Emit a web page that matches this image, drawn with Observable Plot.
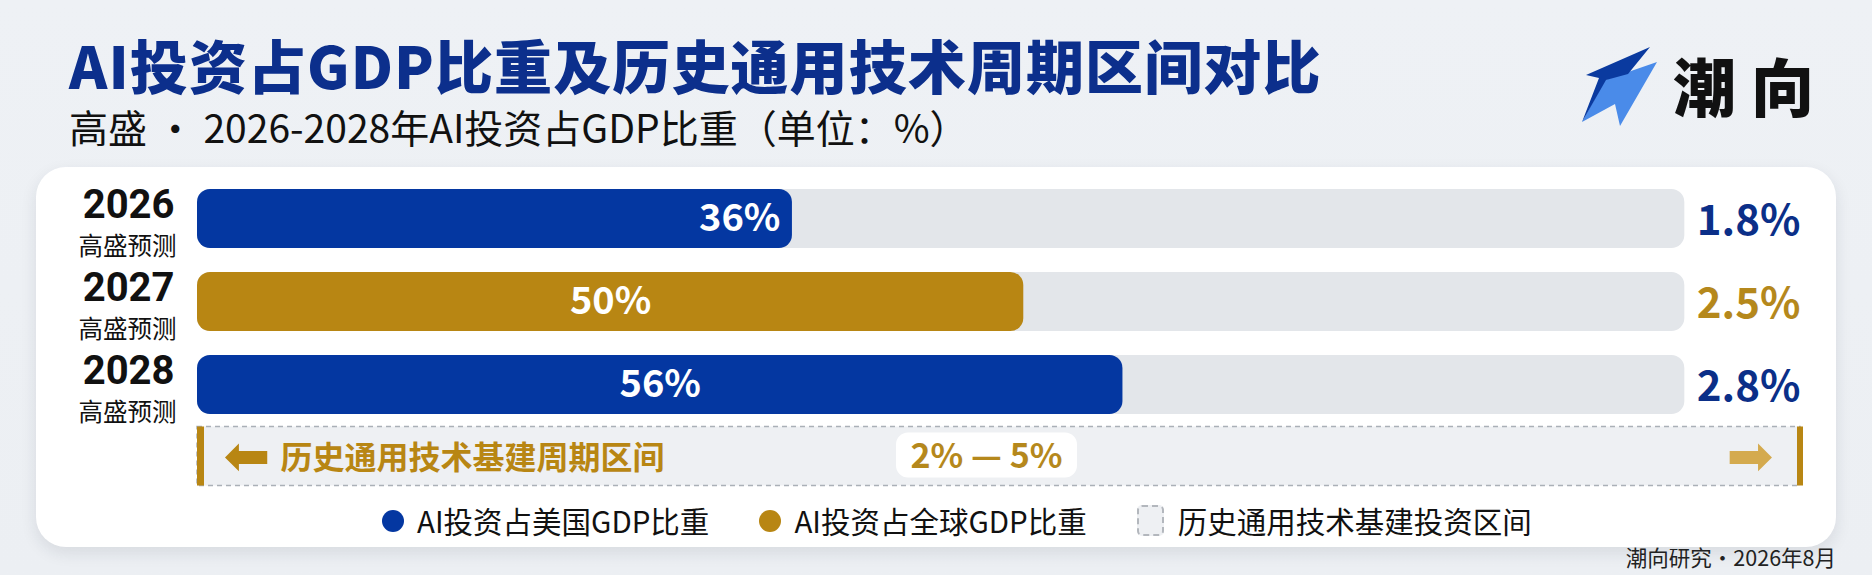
<!DOCTYPE html>
<html>
<head>
<meta charset="utf-8">
<script src="https://cdn.jsdelivr.net/npm/d3@7"></script>
<script src="https://cdn.jsdelivr.net/npm/@observablehq/plot@0.6"></script>
<style>
  html, body { margin: 0; padding: 0; }
  body { width: 1872px; height: 575px; overflow: hidden; background: #edf0f4;
         font-family: "Noto Sans CJK SC", "Noto Sans", sans-serif; }
  #page { position: relative; width: 1872px; height: 575px;
          background: linear-gradient(180deg, #eef1f5 0%, #eceff3 100%); }
  .abs { position: absolute; white-space: nowrap; line-height: 1; }
  #title { left: 69px; top: 35px; font-size: 58px; font-weight: 900; color: #0c2f8c; letter-spacing: 1.1px; }
  #subtitle { left: 69px; top: 107px; font-size: 39px; font-weight: 400; color: #111; }
  #brand { left: 1673px; top: 52px; font-size: 63px; font-weight: 900; color: #111; letter-spacing: 15px; }
  #logo { position: absolute; left: 0; top: 0; }
  #card { position: absolute; left: 36px; top: 167px; width: 1800px; height: 380px; background: #fff;
          border-radius: 30px; box-shadow: 0 6px 16px rgba(30, 40, 60, 0.10); }
  #chart { position: absolute; left: 0; top: 167px; }
  #legend { position: absolute; left: 382px; top: 505px; display: flex; align-items: center;
            font-size: 29.5px; color: #111; line-height: 1; }
  .item { display: flex; align-items: center; margin-right: 50px; }
  .dot { width: 22px; height: 22px; border-radius: 50%; margin-right: 13px; }
  .sq { width: 23px; height: 27px; border: 2px dashed #b3b7bd; border-radius: 5px; background: #eef0f3; margin-right: 14px; }
  #caption { right: 36px; top: 546px; font-size: 21.5px; color: #222; }
</style>
</head>
<body>
<div id="page">
  <div id="title" class="abs"></div>
  <div id="subtitle" class="abs"></div>
  <svg id="logo" width="1872" height="160">
    <polygon points="1605,80 1657,62 1620,126 1615,104 1582,122" fill="#4a8be9"/>
    <polygon points="1586,75 1650,47 1628,74 1606,80 1582,122 1599,78" fill="#0a3a9f"/>
  </svg>
  <div id="brand" class="abs">潮向</div>
  <div id="card"></div>
  <div id="chart"></div>
  <div id="legend"></div>
  <div id="caption" class="abs"></div>
</div>
<script>
// ---------- data ----------
const titleText = "AI投资占GDP比重及历史通用技术周期区间对比";
const subtitleText = "高盛 · 2026-2028年AI投资占GDP比重（单位：%）";
const captionText = "潮向研究・2026年8月";
const years = ["2026", "2027", "2028"];
const forecastNote = "高盛预测";
const gdpShare = [1.8, 2.5, 2.8];              // AI investment as % of GDP
const shareLabels = ["1.8%", "2.5%", "2.8%"];
const ratioLabels = ["36%", "50%", "56%"];     // share relative to 5% upper bound
const rowSeries = ["us", "global", "us"];
const seriesKeys = ["us", "global"];
const seriesNames = ["AI投资占美国GDP比重", "AI投资占全球GDP比重"];
const histRange = [2, 5];
const histBandLabel = "历史通用技术基建周期区间";
const histLegendName = "历史通用技术基建投资区间";
const trackMax = 4.5;
const xMax = 4.85;

// ---------- styles ----------
const NAVY = "#0437a1", GOLD = "#b88613";
const NAVY_TXT = "#0b2f88", GOLD_TXT = "#b5881c";
const HIST = "hist";
const FONT = "'Noto Sans CJK SC', 'Noto Sans', sans-serif";

document.getElementById("title").textContent = titleText;
document.getElementById("subtitle").textContent = subtitleText;
document.getElementById("caption").textContent = captionText;

const rows = years.map((year, i) => ({
  year, value: gdpShare[i], share: shareLabels[i], ratio: ratioLabels[i], series: rowSeries[i], i
}));
const bandDy = -11.5;

const chart = Plot.plot({
  width: 1872,
  height: 340,
  margin: 0,
  x: {domain: [0, xMax], range: [197, 1800], axis: null},
  y: {type: "band", domain: [...years, HIST], range: [21, 330.5], paddingInner: 0.2934, paddingOuter: 0, axis: null},
  color: {domain: seriesKeys, range: [NAVY, GOLD]},
  style: {background: "transparent", fontFamily: FONT, overflow: "visible"},
  marks: [
    // tracks
    Plot.barX(rows, {x1: 0, x2: trackMax, y: "year", fill: "#e3e6ea", rx: 13}),
    // value bars
    Plot.barX(rows, {x1: 0, x2: "value", y: "year", fill: "series", rx: 13}),
    // inside ratio labels
    Plot.text(rows.filter(d => d.i === 0), {x: "value", y: "year", text: "ratio", textAnchor: "end", dx: -12,
      fill: "white", fontSize: 38, fontWeight: 700}),
    Plot.text(rows.filter(d => d.i !== 0), {x: d => d.value / 2, y: "year", text: "ratio", textAnchor: "middle",
      fill: "white", fontSize: 38, fontWeight: 700}),
    // right share labels
    Plot.text(rows.filter(d => d.series === "us"), {x: xMax, y: "year", text: "share", textAnchor: "end", dy: 3,
      fill: NAVY_TXT, fontSize: 42, fontWeight: 700}),
    Plot.text(rows.filter(d => d.series === "global"), {x: xMax, y: "year", text: "share", textAnchor: "end", dy: 3,
      fill: GOLD_TXT, fontSize: 42, fontWeight: 700}),
    // year labels
    Plot.text(rows, {x: 0, y: "year", text: "year", textAnchor: "end", dx: -23, dy: -14,
      fill: "#111", fontSize: 40, fontWeight: 700, fontFamily: "Roboto, 'Noto Sans', sans-serif"}),
    Plot.text(rows, {x: 0, y: "year", text: () => forecastNote, textAnchor: "end", dx: -21, dy: 28,
      fill: "#111", fontSize: 24.5}),
    // historical band
    Plot.barX([HIST], {x1: 0, x2: xMax, y: d => d, dy: bandDy, fill: "#eef0f3",
      stroke: "#aab0b7", strokeWidth: 1.5, strokeDasharray: "5 4"}),
    Plot.barX([HIST], {x1: 0, x2: 0, y: d => d, dy: bandDy, insetLeft: 0, insetRight: -7, fill: GOLD}),
    Plot.barX([HIST], {x1: xMax, x2: xMax, y: d => d, dy: bandDy, insetLeft: -3, insetRight: -3, fill: GOLD}),
    Plot.text([HIST], {x: 0, y: d => d, text: () => "⬅", textAnchor: "start", dx: 26, dy: bandDy + 1,
      fill: GOLD, fontSize: 56, fontFamily: "DejaVu Sans"}),
    Plot.text([HIST], {x: 0, y: d => d, text: () => histBandLabel, textAnchor: "start", dx: 83, dy: bandDy + 2.3,
      fill: GOLD, fontSize: 32, fontWeight: 700}),
    Plot.barX([HIST], {x1: xMax / 2, x2: xMax / 2, y: d => d, dy: bandDy, insetLeft: -102.5, insetRight: -78.5,
      insetTop: 6, insetBottom: 8, fill: "white", rx: 12, ariaLabel: "range-box"}),
    Plot.text([HIST], {x: xMax / 2, y: d => d, text: () => `${histRange[0]}% — ${histRange[1]}%`, textAnchor: "middle",
      dx: -12.5, dy: bandDy + 0.6, fill: GOLD_TXT, fontSize: 34, fontWeight: 700}),
    Plot.text([HIST], {x: xMax, y: d => d, text: () => "➡", textAnchor: "end", dx: -27, dy: bandDy + 1,
      fill: "#d4aa4e", fontSize: 56, fontFamily: "DejaVu Sans"})
  ]
});
document.getElementById("chart").appendChild(chart);
const box = chart.querySelector('[aria-label="range-box"]');
if (box) box.style.filter = "drop-shadow(0 2px 3px rgba(0,0,0,0.12))";

// ---------- legend ----------
const legend = d3.select("#legend");
const colorOf = {us: NAVY, global: GOLD};
seriesKeys.forEach((k, i) => {
  const it = legend.append("div").attr("class", "item");
  it.append("div").attr("class", "dot").style("background", colorOf[k]);
  it.append("span").text(seriesNames[i]);
});
const h = legend.append("div").attr("class", "item");
h.append("div").attr("class", "sq");
h.append("span").text(histLegendName);
</script>
</body>
</html>
